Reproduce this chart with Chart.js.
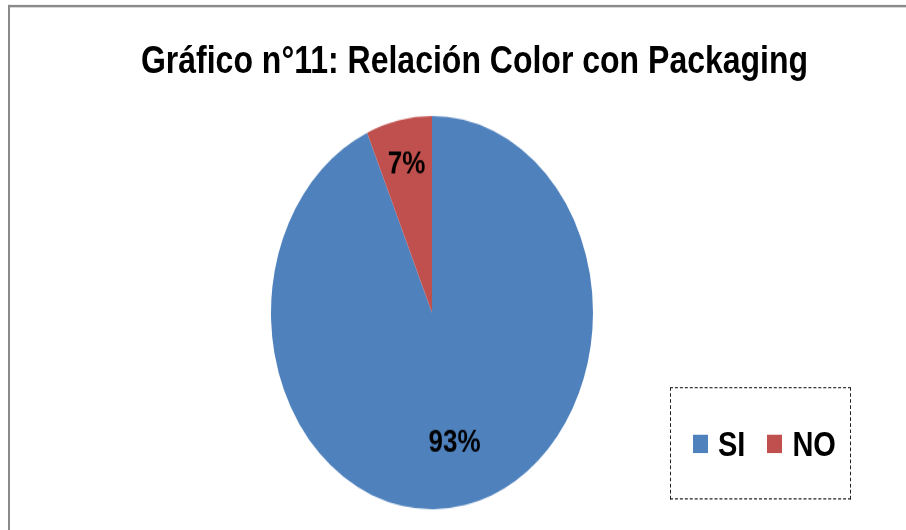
<!DOCTYPE html>
<html lang="es">
<head>
  <meta charset="UTF-8">
  <title>Gráfico n°11</title>
  <script src="https://cdn.jsdelivr.net/npm/chart.js"></script>
  <style>
    html, body {
      margin: 0;
      width: 906px;
      height: 530px;
      background: white;
    }
    .contenedor {
      position: relative;
      width: 906px;
      height: 530px;
      overflow: hidden;
    }
    /* the original picture is stretched vertically, so the whole chart is too */
    #marco {
      position: absolute;
      left: 0;
      top: 0;
      width: 906px;
      height: 434px;
      transform: scaleY(1.2212);
      transform-origin: 0 0;
    }
    .borde {
      position: absolute;
      left: 8px;
      top: 4px;
      right: 0;
      bottom: -10px;
      border-top: 2px solid #8a8a8a;
      border-left: 2px solid #8a8a8a;
    }
    .titulo {
      position: absolute;
      left: 0;
      top: 33px;
      width: 949px;
      text-align: center;
      font: bold 32px/32px "Liberation Sans", Arial, sans-serif;
      color: #000;
      white-space: nowrap;
    }
    canvas {
      position: absolute;
      left: 0;
      top: 0;
    }
    #leyenda {
      position: absolute;
      left: 670px;
      top: 317px;
      width: 179px;
      height: 90px;
      border: 1px dashed #222;
      display: flex;
      align-items: center;
      font: bold 29px "Liberation Sans", Arial, sans-serif;
      color: #000;
    }
    #leyenda .item {
      display: flex;
      align-items: center;
      margin-left: 22px;
    }
    #leyenda .cuadro {
      width: 15px;
      height: 15px;
      margin-right: 10px;
    }
  </style>
</head>
<body>
  <div class="contenedor">
    <div id="marco">
      <div class="borde"></div>
      <div class="titulo">Gráfico n°11: Relación Color con Packaging</div>
      <canvas id="grafico" width="906" height="434"></canvas>
      <div id="leyenda"></div>
    </div>
  </div>

  <script>
    const categorias = ['SI', 'NO'];
    const valores = [93.4, 6.6];
    const colores = ['#4F81BD', '#C0504D'];

    const total = valores.reduce((a, b) => a + b, 0);

    // porcentajes dentro de cada porción
    const etiquetasPlugin = {
      id: 'etiquetas',
      afterDatasetsDraw(chart) {
        const ctx = chart.ctx;
        const meta = chart.getDatasetMeta(0);
        ctx.save();
        ctx.font = 'bold 26px "Liberation Sans", Arial, sans-serif';
        ctx.fillStyle = '#000';
        ctx.textAlign = 'center';
        ctx.textBaseline = 'middle';
        meta.data.forEach((arc, i) => {
          const p = arc.getProps(['x', 'y', 'startAngle', 'endAngle', 'outerRadius'], true);
          const ang = (p.startAngle + p.endAngle) / 2;
          const f = valores[i] / total > 0.5 ? 0.68 : 0.77;
          const texto = Math.round(valores[i] / total * 100) + '%';
          ctx.fillText(texto, p.x + Math.cos(ang) * p.outerRadius * f, p.y + Math.sin(ang) * p.outerRadius * f);
        });
        ctx.restore();
      }
    };

    function gerarLeyenda() {
      const leyenda = document.getElementById('leyenda');
      categorias.forEach((c, i) => {
        const item = document.createElement('div');
        item.className = 'item';
        item.innerHTML = '<span class="cuadro" style="background:' + colores[i] + '"></span>' + c;
        leyenda.appendChild(item);
      });
    }

    function gerarGrafico() {
      const ctx = document.getElementById('grafico').getContext('2d');
      new Chart(ctx, {
        type: 'pie',
        data: {
          labels: categorias,
          datasets: [{
            data: valores,
            backgroundColor: colores,
            borderWidth: 0
          }]
        },
        options: {
          responsive: false,
          animation: false,
          layout: {
            padding: { left: 271, right: 313, top: 95, bottom: 17 }
          },
          plugins: {
            legend: { display: false },
            title: { display: false },
            tooltip: { enabled: false }
          }
        },
        plugins: [etiquetasPlugin]
      });
      gerarLeyenda();
    }

    document.addEventListener('DOMContentLoaded', gerarGrafico);
  </script>
</body>
</html>
